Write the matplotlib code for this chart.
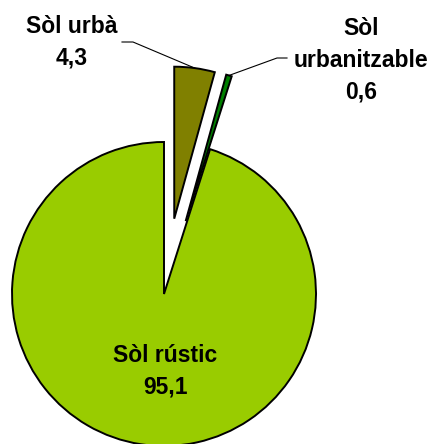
import numpy as np
import matplotlib
matplotlib.use('Agg')
import matplotlib.pyplot as plt

categories = ['Sòl urbà', 'Sòl urbanitzable', 'Sòl rústic']
values = [4.3, 0.6, 95.1]
value_labels = ['4,3', '0,6', '95,1']
colors = ['#808000', '#008000', '#99CC00']

plt.rcParams['font.family'] = ['Liberation Sans', 'DejaVu Sans']

W, H = 434, 444
fig = plt.figure(figsize=(W / 100, H / 100), dpi=100)
ax = fig.add_axes([0, 0, 1, 1])

radius = 152
# explode offsets are in data units (pixels here)
explode = [76, 76, 0]
wedges, _ = ax.pie(values, colors=colors, startangle=90, counterclock=False,
                   explode=explode, radius=radius, center=(164, H - 294),
                   wedgeprops=dict(edgecolor='black', linewidth=1.4))
ax.set_xlim(0, W)
ax.set_ylim(0, H)
ax.set_aspect('equal')
ax.axis('off')


def outer_mid(w):
    ang = np.deg2rad((w.theta1 + w.theta2) / 2)
    cx, cy = w.center
    return cx + w.r * np.cos(ang), cy + w.r * np.sin(ang)


txt = dict(fontsize=16.5, fontweight='bold', ha='center', va='center',
           linespacing=1.5)

# Sòl urbà
ax.text(72, H - 42, 'Sòl urbà\n' + value_labels[0], **txt)
ax_, ay_ = outer_mid(wedges[0])
ax.plot([122, 133, ax_], [H - 42, H - 42, ay_], color='black', lw=0.8)

# Sòl urbanitzable
ax.text(361, H - 60, 'Sòl\nurbanitzable\n' + value_labels[1], **txt)
bx_, by_ = outer_mid(wedges[1])
ax.plot([287, 277, bx_], [H - 58, H - 58, by_], color='black', lw=0.8)

# Sòl rústic
ax.text(165, H - 371, 'Sòl rústic\n' + value_labels[2], **txt)

fig.savefig('out.png', dpi=100)
